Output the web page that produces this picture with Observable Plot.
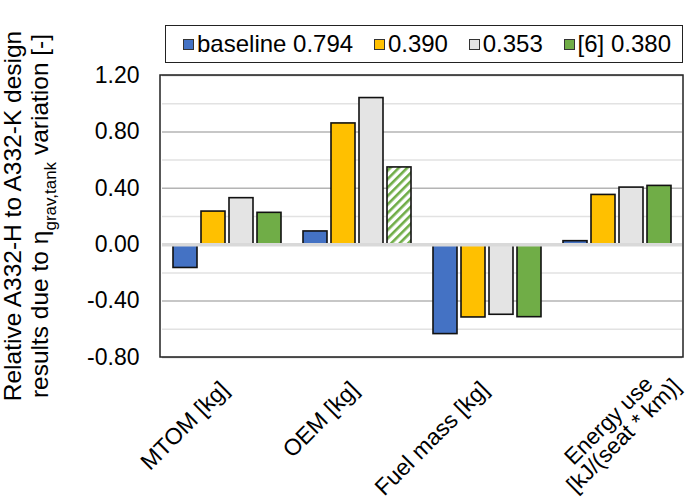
<!DOCTYPE html>
<html><head><meta charset="utf-8">
<script src="https://cdn.jsdelivr.net/npm/d3@7"></script>
<script src="https://cdn.jsdelivr.net/npm/@observablehq/plot@0.6"></script>
<style>
html,body{margin:0;padding:0;background:#fff;}
#wrap{position:relative;width:685px;height:499px;font-family:"Liberation Sans",Arial,sans-serif;}
#legend{position:absolute;left:165px;top:25px;width:518px;height:38px;border:1.5px solid #222;box-sizing:border-box;display:flex;align-items:center;justify-content:space-between;padding-left:17px;padding-right:11px;font-size:24px;color:#000;background:#fff;white-space:nowrap;}
.item{display:flex;align-items:center;}
.sw{display:inline-block;width:9px;height:9px;border:1.2px solid #333;margin-right:3px;}
</style>
</head><body>
<div id="wrap"><div id="legend"></div></div>
<script>
const categories = ["MTOM [kg]", "OEM [kg]", "Fuel mass [kg]", "Energy use\n[kJ/(seat * km)]"];
const series = ["baseline 0.794", "0.390", "0.353", "[6] 0.380"];
const seriesColors = ["#4472C4", "#FFC000", "#E4E4E4", "#70AD47"];
const baseline = [-0.165, 0.094, -0.634, 0.025];
const eta390 = [0.235, 0.86, -0.516, 0.353];
const eta353 = [0.33, 1.04, -0.497, 0.405];
const ref6 = [0.226, 0.548, -0.514, 0.417];
const hatchedBars = [["OEM [kg]", "[6] 0.380"]];
const yTicks = [-0.8, -0.4, 0, 0.4, 0.8, 1.2];
const yMinor = [-0.6, -0.2, 0.2, 0.6, 1.0];
const yTitle1 = "Relative A332-H to A332-K design";
const yTitle2a = "results due to η";
const yTitle2sub = "grav,tank";
const yTitle2b = " variation [-]";

const seriesValues = [baseline, eta390, eta353, ref6];
const rows = categories.flatMap((c, i) => series.map((s, j) => ({
  category: c, series: s, value: seriesValues[j][i],
  fill: hatchedBars.some(h => h[0] === c && h[1] === s) ? "url(#hatch)" : seriesColors[j]
})));

const W = 685, H = 499, mT = 75, mB = 142, mL = 160, mR = 2;
const font = '"Liberation Sans", Arial, sans-serif';

const plot = Plot.plot({
  width: W, height: H,
  marginTop: mT, marginBottom: mB, marginLeft: mL, marginRight: mR,
  style: {fontFamily: font, fontSize: "23px", background: "white", color: "#000", overflow: "visible"},
  fx: {domain: categories, padding: 0, axis: null, label: null},
  x: {domain: series, paddingInner: 0.14, paddingOuter: 0.317, axis: null},
  y: {domain: [-0.8, 1.2], ticks: yTicks, tickFormat: d => d.toFixed(2), tickSize: 0, tickPadding: 23, label: null},
  color: {type: "identity"},
  marks: [
    Plot.ruleY(yMinor, {stroke: "#e2e2e2", strokeWidth: 1.5}),
    Plot.ruleY(yTicks.filter(v => v !== 0), {stroke: "#b4b4b4", strokeWidth: 1.5}),
    Plot.barY(rows, {fx: "category", x: "series", y: "value", fill: "fill", stroke: "#111", strokeWidth: 1.6}),
    Plot.ruleY([0], {stroke: "#d9d9d9", strokeWidth: 3.5}),
    Plot.text(categories.slice(0, 3), {fx: d => d, text: d => d, frameAnchor: "bottom", rotate: -45, textAnchor: "end", lineAnchor: "top", dx: -9, dy: 22, fontSize: 23, fill: "#000"}),
    Plot.text(categories.slice(3), {fx: d => d, text: d => d, frameAnchor: "bottom", rotate: -45, textAnchor: "middle", lineAnchor: "middle", dx: -1, dy: 71, lineHeight: 0.95, fontSize: 22.5, fill: "#000"})
  ]
});

const svg = d3.select(plot);
const defs = svg.insert("defs", ":first-child");
const pat = defs.append("pattern").attr("id", "hatch").attr("patternUnits", "userSpaceOnUse")
  .attr("width", 6).attr("height", 6).attr("patternTransform", "rotate(45)");
pat.append("rect").attr("width", 6).attr("height", 6).attr("fill", "#fff");
pat.append("rect").attr("width", 2.6).attr("height", 6).attr("fill", seriesColors[3]);

svg.append("rect").attr("x", mL).attr("y", mT).attr("width", W - mL - mR).attr("height", H - mT - mB)
  .attr("fill", "none").attr("stroke", "#222").attr("stroke-width", 1.5);

const cy = mT + (H - mT - mB) / 2;
svg.append("text").attr("transform", `translate(21,${cy}) rotate(-90)`)
  .attr("text-anchor", "middle").attr("font-size", 24.5).attr("font-family", font).attr("fill", "#000")
  .text(yTitle1);
const t2 = svg.append("text").attr("transform", `translate(48,${cy}) rotate(-90)`)
  .attr("text-anchor", "middle").attr("font-size", 24.5).attr("font-family", font).attr("fill", "#000");
t2.append("tspan").text(yTitle2a);
t2.append("tspan").attr("dy", 8).attr("font-size", 17).text(yTitle2sub);
t2.append("tspan").attr("dy", -8).text(yTitle2b);

document.getElementById("wrap").insertBefore(plot, document.getElementById("legend"));
plot.style.position = "absolute"; plot.style.left = "0"; plot.style.top = "0";

const legend = d3.select("#legend");
series.forEach((s, j) => {
  const it = legend.append("div").attr("class", "item");
  it.append("span").attr("class", "sw").style("background", seriesColors[j]);
  it.append("span").text(s);
});
</script>
</body></html>
